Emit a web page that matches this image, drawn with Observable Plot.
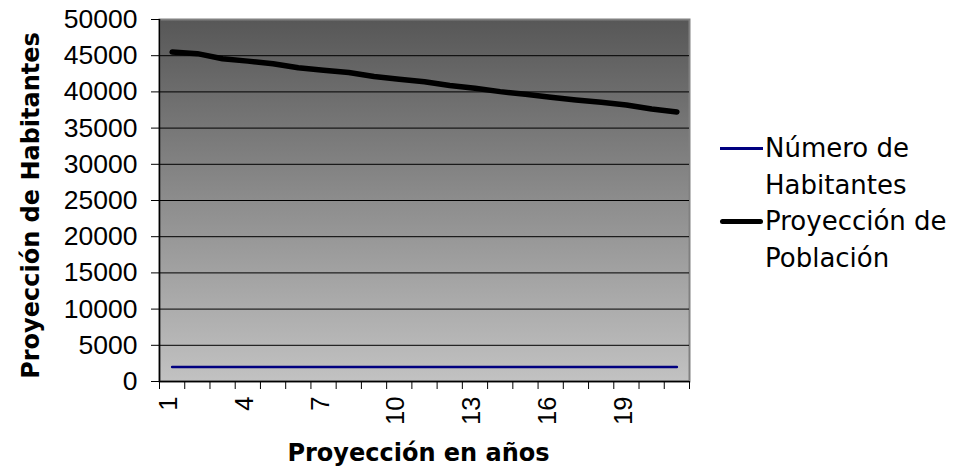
<!DOCTYPE html>
<html>
<head>
<meta charset="utf-8">
<script src="https://cdn.jsdelivr.net/npm/d3@7"></script>
<script src="https://cdn.jsdelivr.net/npm/@observablehq/plot@0.6"></script>
<style>
  html, body { margin: 0; padding: 0; background: #fff; }
  #wrap { position: relative; width: 958px; height: 473px; }
  .legend { position: absolute; left: 720px; font-family: "DejaVu Sans", Verdana, sans-serif; font-size: 26px; color: #000; }
  .legend .row { position: absolute; left: 0; width: 240px; }
  .legend .sw { position: absolute; left: 0; width: 43px; }
  .legend .lbl { position: absolute; left: 45px; line-height: 37px; white-space: nowrap; }
</style>
</head>
<body>
<div id="wrap"></div>
<script>
// ---- data ----
const years = [1, 2, 3, 4, 5, 6, 7, 8, 9, 10, 11, 12, 13, 14, 15, 16, 17, 18, 19, 20, 21];
const proyeccionPoblacion = [45500, 45280, 44580, 44250, 43890, 43330, 43000, 42680, 42125, 41750, 41410,
  40875, 40500, 40040, 39670, 39250, 38890, 38560, 38200, 37640, 37220];
const numeroHabitantes = [2000, 2000, 2000, 2000, 2000, 2000, 2000, 2000, 2000, 2000, 2000,
  2000, 2000, 2000, 2000, 2000, 2000, 2000, 2000, 2000, 2000];
const xTickLabels = [1, 4, 7, 10, 13, 16, 19];
const yTicks = [0, 5000, 10000, 15000, 20000, 25000, 30000, 35000, 40000, 45000, 50000];
const yGrid = [5000, 10000, 15000, 20000, 25000, 30000, 35000, 40000, 45000];
const seriesNames = ["Número de Habitantes", "Proyección de Población"];
const yTitle = "Proyección de Habitantes";
const xTitle = "Proyección en años";

const pobl = years.map((x, i) => ({x, y: proyeccionPoblacion[i]}));
const hab = years.map((x, i) => ({x, y: numeroHabitantes[i]}));
const catEdges = years.map(d => d - 0.5).concat([years[years.length - 1] + 0.5]);

const chart = Plot.plot({
  width: 958,
  height: 473,
  marginLeft: 159,
  marginRight: 269,
  marginTop: 19,
  marginBottom: 92,
  style: {fontFamily: "'Liberation Sans', Arial, sans-serif", fontSize: "25px", background: "#fff", color: "#000", overflow: "visible"},
  x: {type: "linear", domain: [0.5, years.length + 0.5]},
  y: {type: "linear", domain: [0, 50000]},
  marks: [
    Plot.frame({fill: "url(#bgGrad)", stroke: "#808080", strokeWidth: 2}),
    Plot.gridY(yGrid, {stroke: "#000", strokeOpacity: 1, strokeWidth: 1}),
    Plot.ruleY([0], {stroke: "#000", strokeWidth: 1.5}),
    Plot.ruleX([0.5], {stroke: "#000", strokeWidth: 1.5}),
    Plot.axisY({ticks: yTicks, tickSize: 8, tickPadding: 14, tickFormat: d => String(d), fontSize: 26.5, label: null}),
    Plot.axisX({ticks: catEdges, tickSize: 8, tickFormat: () => "", label: null}),
    Plot.axisX({ticks: xTickLabels, tickSize: 0, tickPadding: 15, tickRotate: -90, dx: -3, tickFormat: d => String(d), fontSize: 25.5, label: null}),
    Plot.line(hab, {x: "x", y: "y", stroke: "#000080", strokeWidth: 2.5}),
    Plot.line(pobl, {x: "x", y: "y", stroke: "#000", strokeWidth: 5.5, strokeLinecap: "round", strokeLinejoin: "round"}),
    Plot.text([yTitle], {frameAnchor: "left", dx: -128, dy: 5, rotate: -90, textAnchor: "middle", fontFamily: "'DejaVu Sans', Verdana, sans-serif", fontSize: 24, fontWeight: "bold", text: d => d}),
    Plot.text([xTitle], {frameAnchor: "bottom", dy: 79, dx: -6, textAnchor: "middle", fontFamily: "'DejaVu Sans', Verdana, sans-serif", fontSize: 24, fontWeight: "bold", text: d => d})
  ]
});

const ns = "http://www.w3.org/2000/svg";
const defs = document.createElementNS(ns, "defs");
defs.innerHTML = '<linearGradient id="bgGrad" x1="0" y1="0" x2="0" y2="1">' +
  '<stop offset="0" stop-color="#575757"/><stop offset="1" stop-color="#c2c2c2"/></linearGradient>';
chart.insertBefore(defs, chart.firstChild);

const wrap = document.getElementById("wrap");
wrap.appendChild(chart);

// legend (HTML, beside the plotting area)
const legend = document.createElement("div");
legend.className = "legend";
legend.style.top = "0px";
const entries = [
  {name: seriesNames[0], color: "#000080", w: 2.5, top: 130},
  {name: seriesNames[1], color: "#000", w: 5.5, top: 203}
];
entries.forEach(e => {
  const row = document.createElement("div");
  row.className = "row";
  row.style.top = e.top + "px";
  const sw = document.createElement("div");
  sw.className = "sw";
  sw.style.top = (18.5 - e.w / 2) + "px";
  sw.style.height = e.w + "px";
  sw.style.background = e.color;
  sw.style.borderRadius = e.w > 3 ? "3px" : "0";
  const lbl = document.createElement("div");
  lbl.className = "lbl";
  const words = e.name.split(" ");
  const last = words.pop();
  lbl.innerHTML = words.join(" ") + "<br>" + last;
  row.appendChild(sw);
  row.appendChild(lbl);
  legend.appendChild(row);
});
wrap.appendChild(legend);
</script>
</body>
</html>
